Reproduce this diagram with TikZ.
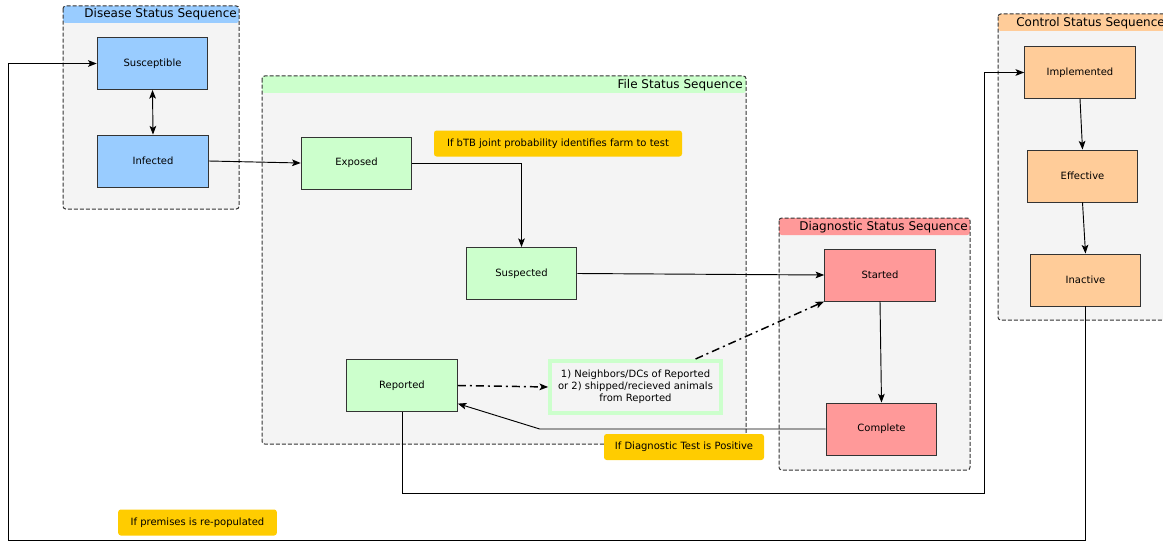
\documentclass[tikz,border=0pt]{standalone}
\usepackage{fontspec}
\setmainfont{DejaVu Sans}
\usepackage{tikz}
\usetikzlibrary{arrows,arrows.meta,shapes}
\definecolor{diseaseblue}{HTML}{99CCFF}
\definecolor{filegreen}{HTML}{CCFFCC}
\definecolor{diagred}{HTML}{FF9999}
\definecolor{controlorange}{HTML}{FFCC99}
\definecolor{noteyellow}{HTML}{FFCC00}
\definecolor{panelgray}{HTML}{F4F4F4}
\definecolor{edgegray}{HTML}{333333}
\tikzset{
    >={Stealth[length=6.5pt, width=5pt, inset=1.5pt]},
    panel/.style={draw=edgegray, line width=0.75pt, fill=panelgray, dash pattern=on 3pt off 1.5pt, rounded corners=2pt},
    header/.style={path picture={\fill[#1] (path picture bounding box.north west)
        rectangle ([yshift=-12.75pt]path picture bounding box.north east);}},
    paneltitle/.style={anchor=east, inner sep=0pt, font=\fontsize{9}{11}\selectfont},
    statebox/.style={draw=edgegray, line width=0.7pt, minimum width=83pt, minimum height=39pt,
        inner sep=0pt, font=\fontsize{7.5}{9}\selectfont},
    disease/.style={statebox, fill=diseaseblue},
    filestate/.style={statebox, fill=filegreen},
    diagnostic/.style={statebox, fill=diagred},
    control/.style={statebox, fill=controlorange},
    contactbox/.style={draw=filegreen, line width=3pt, fill=panelgray, minimum width=128pt,
        minimum height=39pt, inner sep=0pt, align=center, font=\fontsize{7.5}{9}\selectfont},
    note/.style={fill=noteyellow, rounded corners=2pt, minimum height=19.5pt, inner sep=0pt,
        font=\fontsize{7.5}{9}\selectfont},
    flow/.style={draw=black, line width=0.7pt, ->},
    maybeflow/.style={draw=black, line width=1.1pt, dash pattern=on 6pt off 3pt on 1.5pt off 3pt, ->},
}

\begin{document}
\begin{tikzpicture}[x=0.75pt, y=-0.75pt]
\useasboundingbox (0,0) rectangle (1163,542);
% sequence panels
\draw[panel, header=diseaseblue] (63,6) rectangle (239,209);
\node[paneltitle] (diseasetitle) at (237,14.5) {Disease Status Sequence};
\draw[panel, header=filegreen] (262,76) rectangle (746,444);
\node[paneltitle] (filetitle) at (743,85) {File Status Sequence};
\draw[panel, header=diagred] (779,218) rectangle (970,470);
\node[paneltitle] (diagtitle) at (968,227) {Diagnostic Status Sequence};
\draw[panel, header=controlorange] (998,14) rectangle (1168,320);
\node[paneltitle] (controltitle) at (1165,23) {Control Status Sequence};

% states
\node[disease] (susceptible) at (152.5,63.5) {Susceptible};
\node[disease] (infected) at (153,161) {Infected};
\node[filestate] (exposed) at (356.5,163) {Exposed};
\node[filestate] (suspected) at (521.5,273.5) {Suspected};
\node[filestate] (reported) at (402,385.5) {Reported};
\node[contactbox] (contacts) at (635.5,387) {1) Neighbors/DCs of Reported\\or 2) shipped/recieved animals\\from Reported};
\node[diagnostic] (started) at (880,275) {Started};
\node[diagnostic] (complete) at (881.5,429) {Complete};
\node[control] (implemented) at (1080,72.5) {Implemented};
\node[control] (effective) at (1082.5,176) {Effective};
\node[control] (inactive) at (1085.5,280) {Inactive};

% conditions
\node[note, minimum width=186pt] (farmnote) at (558,143.5) {If bTB joint probability identifies farm to test};
\node[note, minimum width=120pt] (positivenote) at (684,447) {If Diagnostic Test is Positive};
\node[note, minimum width=119pt] (repopnote) at (197.5,522.5) {If premises is re-populated};

% transitions
\draw[flow, <->] (susceptible.south) -- (infected.north);
\draw[flow] (infected.east) -- (exposed.west);
\draw[flow] (exposed.east) -| (suspected.north);
\draw[flow] (suspected.east) -- (started.west);
\draw[maybeflow] (reported.east) -- (contacts.west);
\draw[maybeflow] (contacts.25) -- (started.south west);
\draw[flow] (started.south) -- (complete.north);
\draw[flow] (complete.west) -- ++(-286,0) -- (reported.-18);
\draw[flow] (reported.south) |- (984,493) |- (implemented.west);
\draw[flow] (implemented.south) -- (effective.north);
\draw[flow] (effective.south) -- (inactive.north);
\draw[flow] (inactive.south) |- (8,540) |- (susceptible.west);
\end{tikzpicture}
\end{document}
